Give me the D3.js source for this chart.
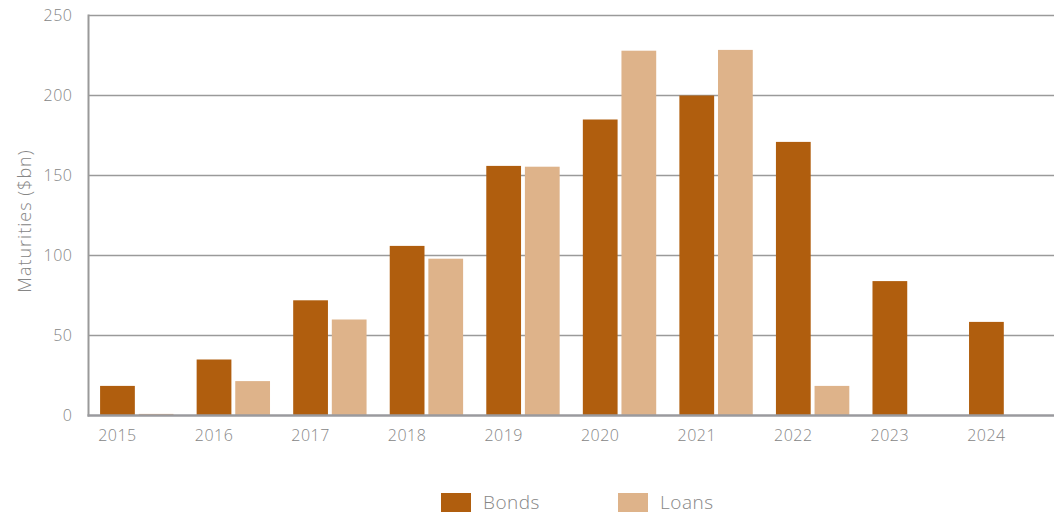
<!DOCTYPE html>
<html><head><meta charset="utf-8">
<script src="https://cdn.jsdelivr.net/npm/d3@7"></script>
<style>
html,body{margin:0;padding:0;background:#fff;}
text{font-family:"Open Sans","Lato",sans-serif;fill:#868686;}
</style></head>
<body><svg id="c" width="1060" height="512"></svg>
<script>
const years = ["2015","2016","2017","2018","2019","2020","2021","2022","2023","2024"];
const bonds = [18.5, 35, 72, 106, 156, 185, 200, 171, 84, 58.5];
const loans = [1, 21.5, 60, 98, 155.5, 228, 228.5, 18.5, 0, 0];
const seriesNames = ["Bonds","Loans"];
const colors = ["#B05E0E","#DEB38A"];
const yTicks = [0,50,100,150,200,250];

const svg = d3.select("#c");
const m = {l:88.5, r:1054, t:15.5, b:415.5};
const x = d3.scaleBand().domain(years).range([m.l, m.r]).paddingInner(0.24).paddingOuter(0.12);
const xs = d3.scaleBand().domain(seriesNames).range([0, x.bandwidth()]).paddingInner(0.1);
const y = d3.scaleLinear().domain([0,250]).range([m.b, m.t]);

// gridlines
svg.append("g").selectAll("line").data(yTicks.filter(d=>d>0)).join("line")
  .attr("x1", m.l).attr("x2", m.r).attr("y1", d=>y(d)).attr("y2", d=>y(d))
  .attr("stroke","#9a9a9a").attr("stroke-width",1.5);

// bars
const data = years.map((yr,i)=>({yr, vals:[bonds[i], loans[i]]}));
const g = svg.append("g").selectAll("g").data(data).join("g")
  .attr("transform", d=>`translate(${x(d.yr)},0)`);
g.selectAll("rect").data(d=>d.vals.map((v,j)=>({v,j}))).join("rect")
  .attr("x", d=>xs(seriesNames[d.j])).attr("width", xs.bandwidth())
  .attr("y", d=>y(d.v)).attr("height", d=>m.b - y(d.v))
  .attr("fill", d=>colors[d.j]);

// axes lines
svg.append("line").attr("x1",m.l).attr("x2",m.l).attr("y1",m.t-1).attr("y2",m.b+1)
  .attr("stroke","#9a9a9a").attr("stroke-width",2);
svg.append("line").attr("x1",m.l-1).attr("x2",m.r).attr("y1",m.b).attr("y2",m.b)
  .attr("stroke","#9a9a9e").attr("stroke-width",2.5);

const tickStyle = sel => sel.attr("font-size",16).attr("fill","#868686")
  .style("font-family",'"Open Sans",sans-serif').style("font-weight",300).style("letter-spacing","0.5px");

// y tick labels
const yAxis = d3.axisLeft(y).tickValues(yTicks).tickSize(0).tickPadding(16);
const ya = svg.append("g").attr("transform",`translate(${m.l},0)`).call(yAxis);
ya.select(".domain").remove();
ya.selectAll("text").call(tickStyle);

// x tick labels, centred under the Bonds bar of each year
const xa = svg.append("g").attr("transform",`translate(0,${m.b})`)
  .call(d3.axisBottom(x).tickSize(0).tickPadding(14));
xa.select(".domain").remove();
xa.selectAll(".tick").attr("transform", d=>`translate(${x(d) + xs("Bonds") + xs.bandwidth()/2},0)`);
xa.selectAll("text").call(tickStyle);

// y label
svg.append("text").attr("transform","translate(31,221) rotate(-90)")
  .attr("text-anchor","middle").attr("font-size",18).style("font-weight",300)
  .style("letter-spacing","1px")
  .text("Maturities ($bn)");

// legend
const legX = [441, 618];
seriesNames.forEach((s,i)=>{
  svg.append("rect").attr("x",legX[i]).attr("y",493).attr("width",30).attr("height",20).attr("fill",colors[i]);
  svg.append("text").attr("x",legX[i]+42).attr("y",509).attr("font-size",19).style("font-weight",300)
    .style("letter-spacing","0.5px").text(s);
});
</script></body></html>
